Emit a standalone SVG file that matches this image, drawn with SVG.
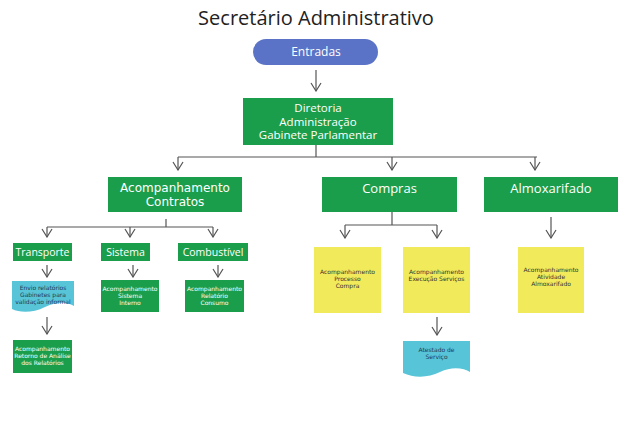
<svg xmlns="http://www.w3.org/2000/svg" width="631" height="446" viewBox="0 0 631 446">
<defs>
<marker id="arr" viewBox="0 0 10 12" refX="9" refY="6" markerWidth="10" markerHeight="12" markerUnits="userSpaceOnUse" orient="auto">
<path d="M1,1 L9,6 L1,11" fill="none" stroke="#555" stroke-width="1.2"/>
</marker>
<style>
.t{font-family:"Open Sans","Liberation Sans",sans-serif;text-anchor:middle}
.s{font-family:"DejaVu Sans","Liberation Sans",sans-serif;text-anchor:middle;font-size:6px}
.w{fill:#fff}
.d{fill:#1e3b57}
.k{fill:#333}
.g{fill:#1b9e4b}
.y{fill:#f1ea5a}
.c{fill:#58c4d8}
.ln{fill:none;stroke:#555;stroke-width:1.2}
.ar{fill:none;stroke:#555;stroke-width:1.2;marker-end:url(#arr)}
</style>
</defs>
<rect width="631" height="446" fill="#fff"/>
<text class="t" x="316" y="25" font-size="20" fill="#222">Secretário Administrativo</text>

<g id="connectors">
<path class="ar" d="M316,70 V91"/>
<path class="ln" d="M316,145 V157 M178,157 H537"/>
<path class="ar" d="M178,157 V170"/>
<path class="ar" d="M392,157 V170"/>
<path class="ar" d="M535,157 V170"/>
<path class="ln" d="M166,219 V227 M47,227 H213"/>
<path class="ar" d="M47,227 V237"/>
<path class="ar" d="M130,227 V237"/>
<path class="ar" d="M213,227 V237"/>
<path class="ar" d="M47,265 V277"/>
<path class="ar" d="M133,265 V277"/>
<path class="ar" d="M218,265 V277"/>
<path class="ar" d="M47,317 V334"/>
<path class="ln" d="M392,212 V225 M345,225 H437"/>
<path class="ar" d="M345,225 V238"/>
<path class="ar" d="M437,225 V238"/>
<path class="ar" d="M551,217 V238"/>
<path class="ar" d="M437,317 V335"/>
</g>

<g id="entradas">
<rect x="253" y="39" width="125" height="26" rx="13" fill="#5a73c6"/>
<text class="t w" x="316" y="56" font-size="12">Entradas</text>
</g>

<g id="diretoria">
<rect class="g" x="243" y="98" width="150" height="47"/>
<text class="t w" font-size="11.5"><tspan x="318" y="112">Diretoria</tspan><tspan x="318" y="125.5">Administração</tspan><tspan x="318" y="139">Gabinete Parlamentar</tspan></text>
</g>

<g id="acomp-contratos">
<rect class="g" x="108" y="177" width="134" height="35"/>
<text class="w" font-family="DejaVu Sans, Liberation Sans, sans-serif" text-anchor="middle" font-size="12"><tspan x="175" y="191.5">Acompanhamento</tspan><tspan x="175" y="206">Contratos</tspan></text>
</g>

<g id="compras">
<rect class="g" x="322" y="177" width="135" height="35"/>
<text class="t w" x="389.5" y="193" font-size="13">Compras</text>
</g>

<g id="almoxarifado">
<rect class="g" x="484" y="177" width="134" height="35"/>
<text class="t w" x="551" y="193" font-size="13">Almoxarifado</text>
</g>

<g id="transporte">
<rect class="g" x="13" y="243" width="59" height="18"/>
<text class="t w" x="42.5" y="256" font-size="10.5">Transporte</text>
</g>

<g id="sistema">
<rect class="g" x="101" y="243" width="49" height="18"/>
<text class="t w" x="125.5" y="256" font-size="10.5">Sistema</text>
</g>

<g id="combustivel">
<rect class="g" x="178" y="243" width="70" height="18"/>
<text class="t w" x="213" y="256" font-size="10.5">Combustível</text>
</g>

<g id="envio">
<path class="c" d="M12,281 H74 V306 C68,302 58,301 45,307 C33,313 20,313 12,309 Z"/>
<text class="s d"><tspan x="43" y="290">Envio relatórios</tspan><tspan x="43" y="297.2">Gabinetes para</tspan><tspan x="43" y="304.4">validação informal</tspan></text>
</g>

<g id="acomp-sistema">
<rect class="g" x="101" y="280" width="58" height="32"/>
<text class="s w"><tspan x="130" y="290.5">Acompanhamento</tspan><tspan x="130" y="297.7">Sistema</tspan><tspan x="130" y="304.9">Interno</tspan></text>
</g>

<g id="acomp-consumo">
<rect class="g" x="185" y="280" width="59" height="32"/>
<text class="s w"><tspan x="214.5" y="290.5">Acompanhamento</tspan><tspan x="214.5" y="297.7">Relatório</tspan><tspan x="214.5" y="304.9">Consumo</tspan></text>
</g>

<g id="acomp-retorno">
<rect class="g" x="13" y="340" width="59" height="33"/>
<text class="s w"><tspan x="42.5" y="350.5">Acompanhamento</tspan><tspan x="42.5" y="357.7">Retorno de Análise</tspan><tspan x="42.5" y="364.9">dos Relatórios</tspan></text>
</g>

<g id="acomp-processo">
<rect class="y" x="314" y="247" width="67" height="66"/>
<text class="s k"><tspan x="347.5" y="274">Acompanhamento</tspan><tspan x="347.5" y="281.2">Processo</tspan><tspan x="347.5" y="288.4">Compra</tspan></text>
</g>

<g id="acomp-execucao">
<rect class="y" x="403" y="247" width="67" height="66"/>
<text class="s k"><tspan x="436.5" y="274">Acompanhamento</tspan><tspan x="436.5" y="281.2">Execução Serviços</tspan></text>
</g>

<g id="acomp-atividade">
<rect class="y" x="518" y="247" width="66" height="66"/>
<text class="s k"><tspan x="551" y="272">Acompanhamento</tspan><tspan x="551" y="279.2">Atividade</tspan><tspan x="551" y="286.4">Almoxarifado</tspan></text>
</g>

<g id="atestado">
<path class="c" d="M403,341 H470 V372 C464,368 452,366 440,372 C428,378 414,378 403,373 Z"/>
<text class="s d"><tspan x="436.5" y="352">Atestado de</tspan><tspan x="436.5" y="359.2">Serviço</tspan></text>
</g>
</svg>
